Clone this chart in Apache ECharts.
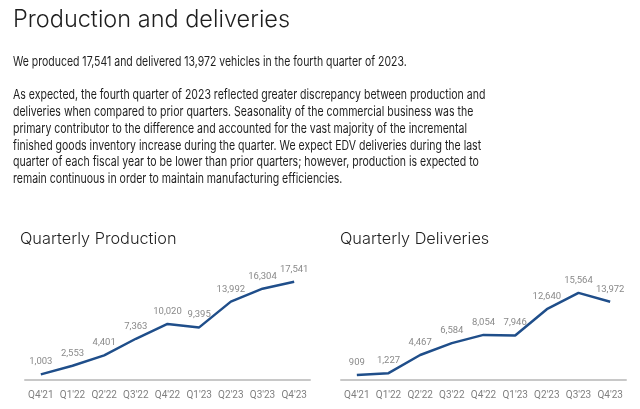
<!DOCTYPE html>
<html>
<head>
<meta charset="utf-8">
<style>
html,body{margin:0;padding:0;background:#fff;}
#c{width:640px;height:409px;}
</style>
<script src="https://cdn.jsdelivr.net/npm/echarts@6/dist/echarts.min.js"></script>
</head>
<body>
<div id="c"></div>
<script>
const quarters = ["Q4'21","Q1'22","Q2'22","Q3'22","Q4'22","Q1'23","Q2'23","Q3'23","Q4'23"];
const production = [1003, 2553, 4401, 7363, 10020, 9395, 13992, 16304, 17541];
const deliveries = [909, 1227, 4467, 6584, 8054, 7946, 12640, 15564, 13972];
const heading = "Production and deliveries";
const intro = "We produced 17,541 and delivered 13,972 vehicles in the fourth quarter of 2023.";
const paragraph = [
  "As expected, the fourth quarter of 2023 reflected greater discrepancy between production and",
  "deliveries when compared to prior quarters. Seasonality of the commercial business was the",
  "primary contributor to the difference and accounted for the vast majority of the incremental",
  "finished goods inventory increase during the quarter. We expect EDV deliveries during the last",
  "quarter of each fiscal year to be lower than prior quarters; however, production is expected to",
  "remain continuous in order to maintain manufacturing efficiencies."
];
const chartTitles = ["Quarterly Production", "Quarterly Deliveries"];

const font = "Inter, 'Open Sans', sans-serif";
const small = "Roboto, 'Open Sans', sans-serif";
const lineColor = '#1f4e8a';
const chart = echarts.init(document.getElementById('c'));

function xAxis(i){
  return {
    type:'category', gridIndex:i, data:quarters, boundaryGap:true,
    axisLine:{show:true, lineStyle:{color:'#c8c8c8', width:2}},
    axisTick:{show:false},
    axisLabel:{color:'#808080', fontSize:10, fontFamily:small, margin:10, interval:0}
  };
}
function yAxis(i){
  return {type:'value', gridIndex:i, min:0, max:20000, show:false, splitLine:{show:false}};
}
function series(i, data){
  return {
    type:'line', xAxisIndex:i, yAxisIndex:i, data:data,
    symbol:'circle', symbolSize:1, showSymbol:true,
    itemStyle:{color:'rgba(0,0,0,0)', borderWidth:0},
    lineStyle:{color:lineColor, width:2.5},
    label:{show:true, position:'top', distance:7, color:'#8a8a8a', fontSize:9.5, fontFamily:small,
      formatter:p=>p.value.toLocaleString('en-US')},
    labelLayout:{hideOverlap:false}
  };
}

function txt(text, x, y, size, weight, sx, lh){
  return {type:'text', x:x, y:y, scaleX:sx, silent:true,
    style:{text:text, fontFamily:font, fontSize:size, fontWeight:weight, fill:'#1e1e1e',
      lineHeight:lh || size*1.2, verticalAlign:'top', align:'left'}};
}

chart.setOption({
  animation:false,
  graphic:[
    txt(heading, 13, 6, 23.5, 300, 1),
    txt(intro, 13, 54, 13.5, 400, 0.776),
    txt(paragraph.join('\n'), 13, 87, 13.5, 400, 0.78, 16.7),
    txt(chartTitles[0], 20, 229, 16.3, 300, 1),
    txt(chartTitles[1], 340, 229, 16.3, 300, 1)
  ],
  grid:[
    {left:25, right:330, top:268, bottom:29},
    {left:341, right:14, top:268, bottom:29}
  ],
  xAxis:[xAxis(0), xAxis(1)],
  yAxis:[yAxis(0), yAxis(1)],
  series:[series(0, production), series(1, deliveries)]
});
</script>
</body>
</html>
